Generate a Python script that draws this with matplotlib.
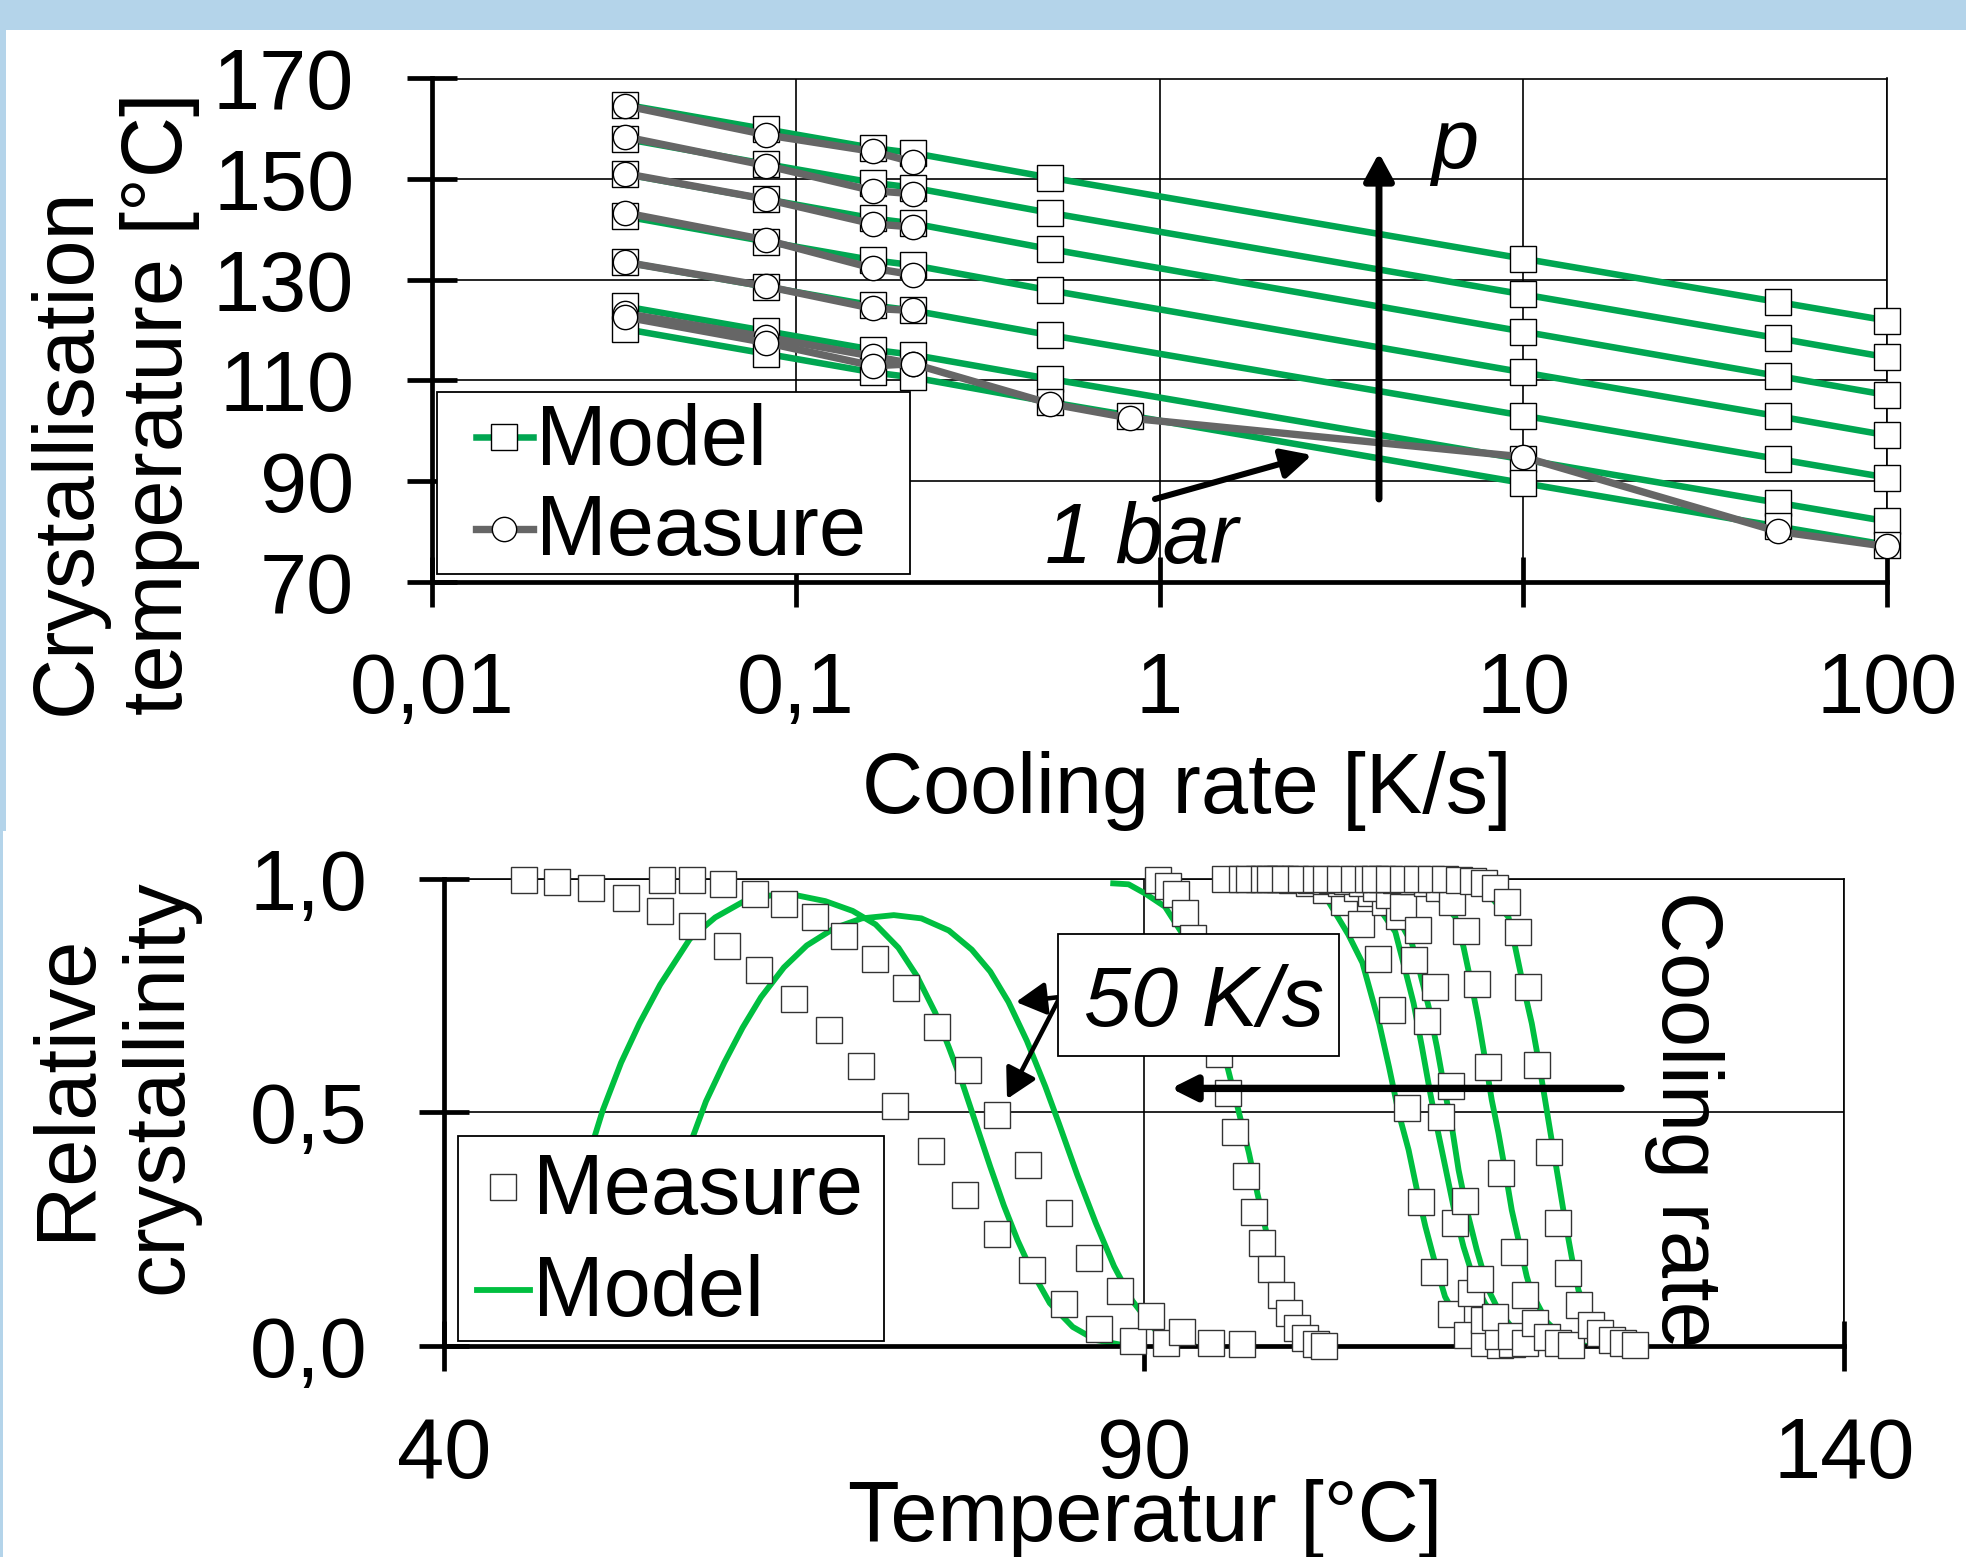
import matplotlib
matplotlib.use('Agg')
import matplotlib.pyplot as plt
from matplotlib.lines import Line2D
from matplotlib.patches import Rectangle
from matplotlib.ticker import NullLocator

plt.rcParams['font.family'] = ['Liberation Sans', 'DejaVu Sans']

# ---------------- data: top chart (crystallisation temperature vs cooling rate)
RATE_MODEL = [0.034, 0.083, 0.163, 0.21, 0.5, 10, 50, 100]
MODEL_P1 = [164.8, 159.9, 156.2, 155.2, 150.3, 134.2, 125.6, 121.9]
MODEL_P2 = [158.0, 153.0, 149.3, 148.3, 143.3, 127.1, 118.4, 114.6]
MODEL_P3 = [151.0, 146.0, 142.2, 141.2, 136.1, 119.7, 110.9, 107.1]
MODEL_P4 = [142.6, 137.6, 133.9, 132.9, 127.9, 111.6, 102.9, 99.1]
MODEL_P5 = [133.5, 128.6, 124.9, 123.9, 119.0, 103.0, 94.4, 90.7]
MODEL_P6 = [124.7, 119.8, 116.1, 115.1, 110.3, 94.3, 85.7, 82.0]
RATE_1BAR = [0.034, 0.083, 0.163, 0.21, 0.5, 0.83, 10, 50, 100]
MODEL_1BAR = [120.2, 115.3, 111.6, 110.6, 105.7, 103.0, 89.6, 81.0, 77.3]

RATE_MEAS = [0.034, 0.083, 0.163, 0.21]
MEAS_P1 = [164.6, 158.8, 155.5, 153.4]
MEAS_P2 = [158.4, 152.7, 147.7, 147.1]
MEAS_P3 = [151.1, 146.0, 141.1, 140.5]
MEAS_P4 = [143.3, 137.9, 132.3, 131.0]
MEAS_P5 = [133.5, 128.7, 124.3, 123.9]
MEAS_P6 = [123.3, 118.6, 114.8, 113.3]
MEAS_1BAR = [122.6, 117.5, 112.9, 113.3, 105.4, 102.5, 94.8, 80.0, 77.0]

TOP_XTICKS = [0.01, 0.1, 1, 10, 100]
TOP_XLABELS = ['0,01', '0,1', '1', '10', '100']
TOP_YTICKS = [70, 90, 110, 130, 150, 170]
TOP_YLABELS = ['70', '90', '110', '130', '150', '170']

# ---------------- data: bottom chart (relative crystallinity vs temperature)
S1_T = [45.7, 48.1, 50.5, 53.0, 55.4, 57.7, 60.2, 62.5, 65.0, 67.5, 69.8, 72.2, 74.8, 77.2, 79.5, 82.0, 84.3, 86.8, 89.2, 91.6]
S1_X = [0.998, 0.994, 0.981, 0.959, 0.931, 0.898, 0.855, 0.804, 0.742, 0.676, 0.599, 0.513, 0.416, 0.323, 0.238, 0.161, 0.090, 0.035, 0.009, 0.005]
S2_T = [55.6, 57.7, 59.9, 62.2, 64.3, 66.5, 68.6, 70.8, 73.0, 75.2, 77.4, 79.5, 81.7, 83.9, 86.1, 88.3, 90.5, 92.7, 94.8, 97.0]
S2_X = [0.998, 0.998, 0.989, 0.968, 0.945, 0.917, 0.878, 0.829, 0.766, 0.682, 0.590, 0.493, 0.386, 0.283, 0.188, 0.117, 0.063, 0.029, 0.006, 0.004]
S3_T = [91.0, 91.7, 92.3, 92.9, 93.5, 94.1, 94.7, 95.35, 96.0, 96.5, 97.25, 97.85, 98.45, 99.1, 99.75, 100.35, 100.9, 101.5, 102.25, 102.85]
S3_X = [0.998, 0.985, 0.968, 0.927, 0.872, 0.80, 0.72, 0.624, 0.540, 0.457, 0.363, 0.287, 0.219, 0.163, 0.108, 0.069, 0.037, 0.016, 0.003, 0.0]
S4_T = [95.8, 97.0, 98.2, 99.4, 100.6, 101.8, 103.0, 104.3, 105.5, 106.7, 107.7, 108.8, 109.8, 110.7, 111.9, 113.1, 114.3, 115.4]
S4_X = [1.0, 1.0, 1.0, 0.999, 0.997, 0.99, 0.975, 0.95, 0.903, 0.829, 0.718, 0.509, 0.307, 0.158, 0.068, 0.022, 0.006, 0.001]
S5_T = [97.5, 98.6, 99.7, 100.8, 101.9, 103.0, 104.1, 105.2, 106.2, 107.2, 108.2, 109.26, 110.2, 111.2, 112.2, 113.35, 114.3, 115.3, 116.3]
S5_X = [1.0, 1.0, 1.0, 0.999, 0.998, 0.995, 0.99, 0.98, 0.97, 0.95, 0.92, 0.826, 0.696, 0.490, 0.262, 0.113, 0.055, 0.02, 0.004]
S6_T = [99.0, 100.1, 101.2, 102.3, 103.4, 104.5, 105.6, 106.6, 107.5, 108.5, 109.6, 110.75, 111.9, 112.95, 114.0, 115.1, 116.2, 117.2]
S6_X = [1.0, 1.0, 1.0, 0.999, 0.997, 0.995, 0.99, 0.98, 0.965, 0.94, 0.89, 0.769, 0.557, 0.310, 0.142, 0.062, 0.02, 0.005]
S7_T = [103.0, 104.0, 105.0, 106.0, 107.0, 108.0, 109.2, 110.2, 111.1, 112.0, 113.0, 113.8, 114.6, 115.5, 116.4, 117.2, 117.9, 118.8, 119.6, 120.5]
S7_X = [1.0, 1.0, 1.0, 1.0, 0.999, 0.998, 0.995, 0.99, 0.98, 0.951, 0.889, 0.774, 0.596, 0.369, 0.200, 0.108, 0.048, 0.019, 0.006, 0.002]
S8_T = [106.5, 107.5, 108.5, 109.5, 110.5, 111.5, 112.5, 113.5, 114.3, 115.1, 115.9, 116.7, 117.4, 118.1, 118.9, 119.6, 120.3, 121.1, 121.9, 122.6, 123.4, 124.2, 125.1]
S8_X = [1.0, 1.0, 1.0, 1.0, 1.0, 0.999, 0.998, 0.995, 0.99, 0.98, 0.951, 0.885, 0.767, 0.601, 0.415, 0.263, 0.156, 0.086, 0.044, 0.026, 0.012, 0.005, 0.001]

G1_T = [50.19, 51.34, 52.65, 53.96, 55.44, 57.56, 59.37, 61.33, 63.30, 65.26, 67.23, 69.19, 70.83, 72.46, 73.77, 75.09, 76.06, 77.05, 78.03, 79.02, 79.99, 80.98, 81.96, 83.27, 84.91, 86.55, 88.51]
G1_X = [0.393, 0.504, 0.606, 0.690, 0.773, 0.871, 0.917, 0.950, 0.964, 0.964, 0.952, 0.931, 0.902, 0.852, 0.792, 0.713, 0.639, 0.560, 0.472, 0.383, 0.300, 0.225, 0.161, 0.091, 0.040, 0.012, 0.001]
G2_T = [57.56, 58.71, 60.02, 61.33, 62.64, 64.28, 65.91, 67.88, 69.84, 72.13, 74.10, 76.06, 77.70, 79.02, 80.32, 81.63, 82.95, 83.92, 85.24, 86.55, 87.86, 89.17, 90.48, 91.5, 93.5]
G2_X = [0.430, 0.523, 0.606, 0.681, 0.746, 0.810, 0.857, 0.894, 0.915, 0.922, 0.915, 0.889, 0.848, 0.801, 0.736, 0.653, 0.555, 0.476, 0.365, 0.263, 0.170, 0.096, 0.045, 0.01, 0.0]
G3_T = [87.8, 88.9, 90.1, 91.5, 93.0, 94.5, 95.9, 96.8, 97.5, 98.1, 98.7, 99.4, 100.2, 101.0, 102.0, 103.5]
G3_X = [0.99, 0.988, 0.968, 0.94, 0.87, 0.75, 0.604, 0.497, 0.412, 0.326, 0.248, 0.16, 0.085, 0.035, 0.008, 0.0]
G4_T = [101.5, 103.0, 104.6, 105.6, 106.8, 107.5, 108.2, 108.9, 109.5, 110.1, 110.8, 111.5, 111.9, 112.8, 114.0, 115.5]
G4_X = [0.99, 0.96, 0.88, 0.82, 0.69, 0.597, 0.497, 0.419, 0.333, 0.255, 0.176, 0.105, 0.083, 0.04, 0.012, 0.0]
G5_T = [104.5, 106.5, 107.95, 108.66, 109.26, 109.85, 110.45, 110.92, 111.52, 112.11, 112.82, 113.65, 114.37, 115.08, 116.5, 118.0]
G5_X = [0.99, 0.95, 0.886, 0.804, 0.733, 0.640, 0.540, 0.469, 0.383, 0.297, 0.212, 0.133, 0.090, 0.062, 0.02, 0.0]
G6_T = [105.5, 107.5, 109.14, 109.73, 110.33, 110.92, 111.52, 111.99, 112.47, 113.06, 113.77, 114.61, 115.32, 116.5, 118.0]
G6_X = [0.99, 0.95, 0.861, 0.797, 0.726, 0.640, 0.540, 0.469, 0.376, 0.290, 0.205, 0.119, 0.076, 0.03, 0.005]
G7_T = [109.5, 111.0, 112.23, 112.82, 113.42, 113.89, 114.37, 114.84, 115.32, 115.79, 116.27, 116.86, 117.34, 117.70, 118.8, 120.0, 121.5]
G7_X = [0.99, 0.96, 0.918, 0.854, 0.769, 0.697, 0.612, 0.526, 0.455, 0.376, 0.290, 0.212, 0.148, 0.112, 0.05, 0.015, 0.0]
G8_T = [113.0, 114.8, 116.03, 116.51, 117.10, 117.70, 118.17, 118.65, 119.12, 119.60, 120.07, 120.55, 121.03, 121.38, 122.3, 123.5, 125.0]
G8_X = [0.99, 0.96, 0.918, 0.854, 0.769, 0.690, 0.612, 0.526, 0.440, 0.355, 0.269, 0.190, 0.119, 0.091, 0.04, 0.01, 0.0]

BOT_XTICKS = [40, 90, 140]
BOT_XLABELS = ['40', '90', '140']
BOT_YTICKS = [0.0, 0.5, 1.0]
BOT_YLABELS = ['0,0', '0,5', '1,0']

# ---------------- styling
W, H, DPI = 1966, 1557, 100
FS = 61
GREEN_TOP = '#00A651'
GREEN_BOT = '#00BF40'
GRAY = '#666666'
BLUE = '#B4D4EA'
LW_GREEN_TOP = 4.7
LW_GRAY = 5.3
LW_GREEN_BOT = 4.2


def F(px, py):
    return px / W, 1 - py / H


def P(px, py):
    return px, H - py


fig = plt.figure(figsize=(W / DPI, H / DPI), dpi=DPI)
fig.patch.set_facecolor('white')

# light blue frame pieces
fig.add_artist(Rectangle(F(0, 30), 1, 30 / H, transform=fig.transFigure, color=BLUE, lw=0, zorder=0))
fig.add_artist(Rectangle(F(0, 831), 6 / W, (831 - 30) / H, transform=fig.transFigure, color=BLUE, lw=0, zorder=0))
fig.add_artist(Rectangle(F(0, H), 3 / W, (H - 831) / H, transform=fig.transFigure, color=BLUE, lw=0, zorder=0))


def style_axes(ax, xpad, ypad):
    ax.set_facecolor('none')
    ax.grid(True, which='major', color='black', linewidth=1.2)
    ax.set_axisbelow(True)
    for s in ['top', 'right']:
        ax.spines[s].set_linewidth(1.2)
    for s in ['left', 'bottom']:
        ax.spines[s].set_linewidth(3.4)
    ax.tick_params(axis='both', which='major', direction='inout', length=36, width=3.4,
                   labelsize=FS, top=False, right=False)
    ax.tick_params(axis='x', pad=xpad)
    ax.tick_params(axis='y', pad=ypad)


# ================= top chart
ax1 = fig.add_axes([432 / W, 1 - 581.7 / H, 1455 / W, 503.2 / H])
ax1.set_xscale('log')
ax1.set_xlim(0.01, 100)
ax1.set_ylim(70, 170)
ax1.set_xticks(TOP_XTICKS)
ax1.set_xticklabels(TOP_XLABELS)
ax1.xaxis.set_minor_locator(NullLocator())
ax1.set_yticks(TOP_YTICKS)
ax1.set_yticklabels(TOP_YLABELS)
style_axes(ax1, 32, 38)

mk_sq = dict(marker='s', ms=18.5, mfc='white', mec='black', mew=1.0)
mk_ci = dict(marker='o', ms=17.5, mfc='white', mec='black', mew=1.0)

for vals in [MODEL_P1, MODEL_P2, MODEL_P3, MODEL_P4, MODEL_P5, MODEL_P6]:
    ax1.plot(RATE_MODEL, vals, color=GREEN_TOP, lw=LW_GREEN_TOP, zorder=3, clip_on=False, **mk_sq)
ax1.plot(RATE_1BAR, MODEL_1BAR, color=GREEN_TOP, lw=LW_GREEN_TOP, zorder=3, clip_on=False, **mk_sq)
for vals in [MEAS_P1, MEAS_P2, MEAS_P3, MEAS_P4, MEAS_P5, MEAS_P6]:
    ax1.plot(RATE_MEAS, vals, color=GRAY, lw=LW_GRAY, zorder=4, clip_on=False, **mk_ci)
ax1.plot(RATE_1BAR, MEAS_1BAR, color=GRAY, lw=LW_GRAY, zorder=4, clip_on=False, **mk_ci)

arrow_up = dict(arrowstyle='-|>,head_length=0.55,head_width=0.3', lw=5.0, color='black',
                shrinkA=0, shrinkB=0, mutation_scale=30)
arrow_bar = dict(arrowstyle='-|>,head_length=0.6,head_width=0.3', lw=4.4, color='black',
                 shrinkA=0, shrinkB=0, mutation_scale=30)
ax1.annotate('', xy=P(1379, 153), xycoords='figure pixels', xytext=P(1379, 499),
             textcoords='figure pixels', arrowprops=arrow_up, zorder=6)
ax1.annotate('', xy=P(1312, 455), xycoords='figure pixels', xytext=P(1155, 499),
             textcoords='figure pixels', arrowprops=arrow_bar, zorder=6)
fig.text(*F(1431, 168), 'p', fontsize=FS, style='italic', ha='left', va='baseline')
fig.text(*F(1045, 562.6), '1 bar', fontsize=FS, style='italic', ha='left', va='baseline')

# top legend (Excel-like box)
fig.add_artist(Rectangle(F(437, 574), 473 / W, 182 / H, transform=fig.transFigure,
                         facecolor='white', edgecolor='black', lw=1.3, zorder=5))
fig.add_artist(Line2D([476 / W, 533 / W], [F(0, 437.4)[1]] * 2, transform=fig.transFigure,
                      color=GREEN_TOP, lw=LW_GREEN_TOP, zorder=6))
fig.add_artist(Line2D([504 / W], [F(0, 437.4)[1]], transform=fig.transFigure, zorder=7, **mk_sq))
fig.add_artist(Line2D([476 / W, 533 / W], [F(0, 529)[1]] * 2, transform=fig.transFigure,
                      color=GRAY, lw=LW_GRAY, zorder=6))
fig.add_artist(Line2D([504 / W], [F(0, 529)[1]], transform=fig.transFigure, zorder=7, **mk_ci))
fig.text(*F(536, 465), 'Model', fontsize=FS, ha='left', va='baseline', zorder=8)
fig.text(*F(536, 555), 'Measure', fontsize=FS, ha='left', va='baseline', zorder=8)

fig.text(*F(114, 715), 'Crystallisation\ntemperature [°C]', fontsize=FS, rotation=90,
         ha='center', va='bottom', multialignment='left')
fig.text(*F(1187, 812.6), 'Cooling rate [K/s]', fontsize=FS, ha='center', va='baseline')

# ================= bottom chart
ax2 = fig.add_axes([444 / W, 1 - 1345.6 / H, 1400 / W, 466.9 / H])
ax2.set_xlim(40, 140)
ax2.set_ylim(0, 1)
ax2.set_xticks(BOT_XTICKS)
ax2.set_xticklabels(BOT_XLABELS)
ax2.set_yticks(BOT_YTICKS)
ax2.set_yticklabels(BOT_YLABELS)
style_axes(ax2, 33, 37)

for tt, xx in [(G1_T, G1_X), (G2_T, G2_X), (G3_T, G3_X), (G4_T, G4_X),
               (G5_T, G5_X), (G6_T, G6_X), (G7_T, G7_X), (G8_T, G8_X)]:
    ax2.plot(tt, xx, color=GREEN_BOT, lw=LW_GREEN_BOT, zorder=2, solid_joinstyle='round')

mk_sq2 = dict(marker='s', ms=19, mfc='white', mec='#333333', mew=1.0, ls='none')
for tt, xx in [(S1_T, S1_X), (S2_T, S2_X), (S3_T, S3_X), (S4_T, S4_X),
               (S5_T, S5_X), (S6_T, S6_X), (S7_T, S7_X), (S8_T, S8_X)]:
    ax2.plot(tt, xx, zorder=3, clip_on=False, **mk_sq2)

# 50 K/s box with double arrow
fig.add_artist(Rectangle(F(1058, 1056), 281 / W, 122 / H, transform=fig.transFigure,
                         facecolor='white', edgecolor='black', lw=1.3, zorder=5))
fig.text(*F(1204, 1026), '50 K/s', fontsize=FS, style='italic', ha='center', va='baseline', zorder=6)
arrow2 = dict(arrowstyle='-|>,head_length=0.6,head_width=0.33', lw=3.3, color='black',
              shrinkA=0, shrinkB=0, mutation_scale=30)
ax2.annotate('', xy=P(1016, 1002), xycoords='figure pixels', xytext=P(1060, 997),
             textcoords='figure pixels', arrowprops=arrow2, zorder=6)
ax2.annotate('', xy=P(1007, 1099), xycoords='figure pixels', xytext=P(1060, 997),
             textcoords='figure pixels', arrowprops=arrow2, zorder=6)

# cooling-rate arrow + label
arrow3 = dict(arrowstyle='-|>,head_length=0.5,head_width=0.25', lw=5.3, color='black',
              shrinkA=0, shrinkB=0, mutation_scale=30)
ax2.annotate('', xy=P(1171, 1088.4), xycoords='figure pixels', xytext=P(1621, 1088.4),
             textcoords='figure pixels', arrowprops=arrow3, zorder=6)
fig.text(*F(1683.5, 1119), 'Cooling rate', fontsize=FS, rotation=270, ha='center', va='center')

# bottom legend
fig.add_artist(Rectangle(F(458, 1341), 426 / W, 205 / H, transform=fig.transFigure,
                         facecolor='white', edgecolor='black', lw=1.3, zorder=5))
fig.add_artist(Line2D([503 / W], [F(0, 1187)[1]], transform=fig.transFigure, zorder=7,
                      marker='s', ms=19, mfc='white', mec='#333333', mew=1.0))
fig.add_artist(Line2D([477 / W, 530 / W], [F(0, 1290)[1]] * 2, transform=fig.transFigure,
                      color=GREEN_BOT, lw=LW_GREEN_BOT, zorder=6))
fig.text(*F(533, 1214), 'Measure', fontsize=FS, ha='left', va='baseline', zorder=8)
fig.text(*F(533, 1316), 'Model', fontsize=FS, ha='left', va='baseline', zorder=8)

fig.text(*F(113, 1087), 'Relative\ncrystallinity', fontsize=FS, rotation=90,
         ha='center', va='center', multialignment='center')
fig.text(*F(1145, 1541), 'Temperatur [°C]', fontsize=FS, ha='center', va='baseline')

fig.savefig('out.png', dpi=DPI, facecolor='white')
